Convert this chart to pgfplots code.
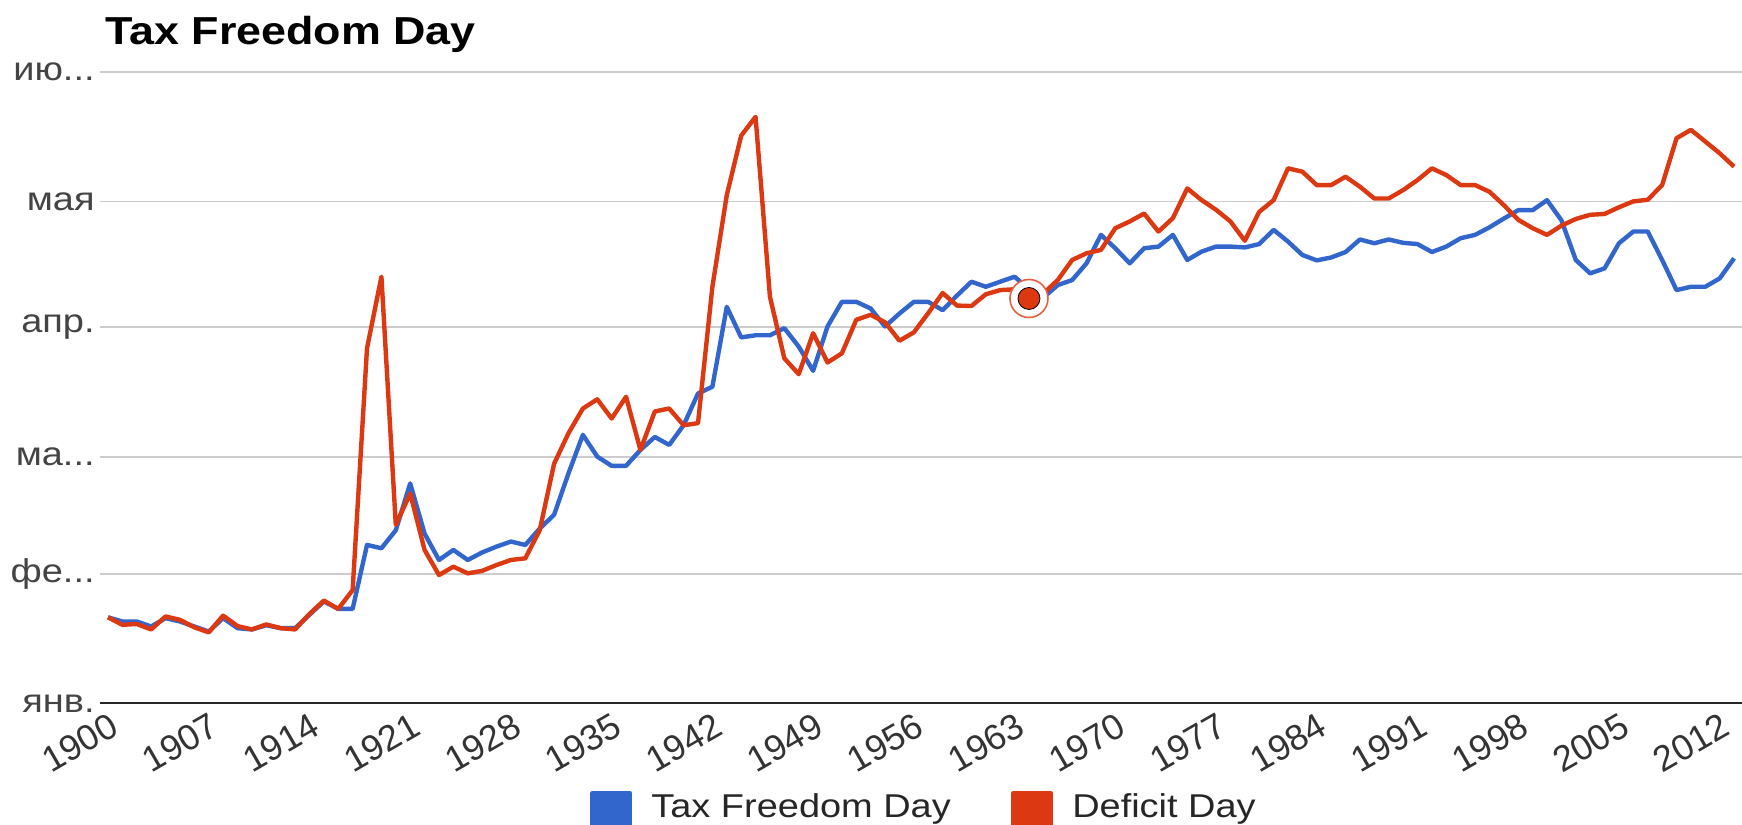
\documentclass[border=0pt]{standalone}
\usepackage{pgfplots}
\pgfplotsset{compat=1.18}
\usepackage{pgfplotstable}
\usepackage{fontspec}
\setmainfont{Liberation Sans}[FakeStretch=1.15]
\newfontfamily\plainsans{Liberation Sans}
\definecolor{gblue}{HTML}{3366CC}
\definecolor{gred}{HTML}{DC3912}
\definecolor{ggrid}{HTML}{CCCCCC}
\definecolor{glabel}{HTML}{444444}
\newcommand{\ddd}{.\kern0pt.\kern0pt.}

\pgfplotstableread{
year tfd def
1900 20.6 20.6
1901 19.6 18.8
1902 19.6 19.0
1903 18.4 17.7
1904 20.4 20.8
1905 19.6 20.0
1906 18.4 18.2
1907 17.2 17.0
1908 20.4 21.0
1909 18.0 18.5
1910 17.7 17.7
1911 18.7 18.9
1912 18.0 18.0
1913 18.0 17.7
1914 21.2 21.4
1915 24.4 24.6
1916 22.6 22.6
1917 22.6 27.1
1918 37.9 84.9
1919 37.1 102.0
1920 41.4 42.7
1921 52.6 50.2
1922 40.6 36.7
1923 34.3 30.7
1924 36.7 32.7
1925 34.3 31.1
1926 36.1 31.7
1927 37.5 33.1
1928 38.7 34.3
1929 37.9 34.7
1930 41.8 41.4
1931 45.1 57.3
1932 55.0 64.6
1933 64.2 70.5
1934 59.0 72.7
1935 56.8 68.1
1936 56.8 73.3
1937 60.6 60.6
1938 63.7 69.8
1939 61.8 70.5
1940 66.5 66.5
1941 74.1 67.0
1942 75.7 99.6
1943 94.8 121.5
1944 87.5 135.7
1945 88.0 140.2
1946 88.0 97.2
1947 89.7 82.5
1948 85.3 78.7
1949 79.5 88.5
1950 90.1 81.5
1951 96.0 83.7
1952 96.0 91.7
1953 94.4 92.9
1954 90.1 91.1
1955 93.2 86.7
1956 96.0 88.7
1957 96.0 93.3
1958 94.0 98.1
1959 97.5 95.1
1960 100.8 95.0
1961 99.6 97.8
1962 100.8 98.8
1963 102.0 99.0
1964 99.0 96.8
1965 97.0 98.0
1966 100.0 101.2
1967 101.2 106.0
1968 105.2 107.6
1969 112.0 108.4
1970 108.8 113.6
1971 105.2 115.2
1972 108.8 117.1
1973 109.2 112.8
1974 112.0 116.0
1975 106.0 123.1
1976 108.0 120.3
1977 109.2 118.0
1978 109.2 115.2
1979 109.0 110.6
1980 109.8 117.5
1981 113.2 120.3
1982 110.4 127.9
1983 107.2 127.1
1984 105.9 123.9
1985 106.6 123.9
1986 107.9 125.9
1987 110.9 123.5
1988 110.0 120.7
1989 110.9 120.7
1990 110.1 122.7
1991 109.8 125.1
1992 107.9 127.9
1993 109.2 126.3
1994 111.2 123.9
1995 112.0 123.9
1996 113.8 122.3
1997 115.9 119.1
1998 117.9 115.6
1999 117.9 113.6
2000 120.3 112.0
2001 115.5 114.2
2002 106.0 115.8
2003 102.8 116.8
2004 104.0 117.0
2005 110.0 118.6
2006 112.8 120.0
2007 112.8 120.4
2008 106.0 123.9
2009 98.8 135.1
2010 99.6 137.1
2011 99.6 134.3
2012 101.6 131.5
2013 106.4 128.3
}\datatable

\begin{document}
\begin{tikzpicture}
\useasboundingbox (0,0) rectangle (871pt,412.5pt);
\begin{axis}[
  at={(50pt,60.75pt)}, anchor=south west,
  scale only axis, width=821pt, height=315.9pt,
  xmin=1899.444, xmax=2013.55, ymin=0, ymax=151,
  clip=false,
  axis x line*=bottom, axis y line*=left,
  x axis line style={draw=black!85, line width=1pt, -},
  y axis line style={draw=none},
  xtick={1900,1907,...,2012},
  ytick={0,31,59,90,120,151},
  yticklabels={{янв.},{фе\ddd},{ма\ddd},{апр.},{мая},{ию\ddd}},
  ymajorgrids, grid style={ggrid, line width=0.9pt},
  major tick length=0pt,
  /pgf/number format/assume math mode=true,
  /pgf/number format/1000 sep={},
  xticklabel style={font=\plainsans\fontsize{18}{19}\selectfont, text=black!80, rotate=30, anchor=north east, inner sep=0pt, yshift=-3.5pt, xshift=-2pt},
  yticklabel style={font=\fontsize{16.5}{19}\selectfont, text=glabel, anchor=east, inner sep=0pt, xshift=-2.5pt},
  title={Tax Freedom Day},
  title style={at={(0.003,1.0438)}, anchor=base west, yshift=-6pt, font=\bfseries\fontsize{19.5}{22}\selectfont, inner sep=0pt},
  legend columns=2,
  legend style={at={(0.2984,-0.1723)}, anchor=west, draw=none, fill=none, inner sep=0pt, outer sep=0pt,
    font=\fontsize{16.5}{18}\selectfont, text=black!85, nodes={inner sep=0pt},
    /tikz/every odd column/.append style={column sep=9.5pt},
    /tikz/every even column/.append style={column sep=30pt}},
  legend image code/.code={\fill[#1] (0pt,-12pt) rectangle (19pt,7pt);},
]
\addplot[gblue, line width=2.2pt, line join=round] table[x=year, y=tfd] {\datatable};
\addlegendentry{Tax Freedom Day}
\addplot[gred, line width=2.2pt, line join=round] table[x=year, y=def] {\datatable};
\addlegendentry{Deficit Day}
\addplot[forget plot, only marks, mark=*, mark size=9.5pt, mark options={fill=white, draw=gred!80, line width=0.8pt}] coordinates {(1964,96.8)};
\addplot[forget plot, only marks, mark=*, mark size=5.5pt, mark options={fill=gred, draw=none}] coordinates {(1964,96.8)};
\end{axis}
\end{tikzpicture}
\end{document}
